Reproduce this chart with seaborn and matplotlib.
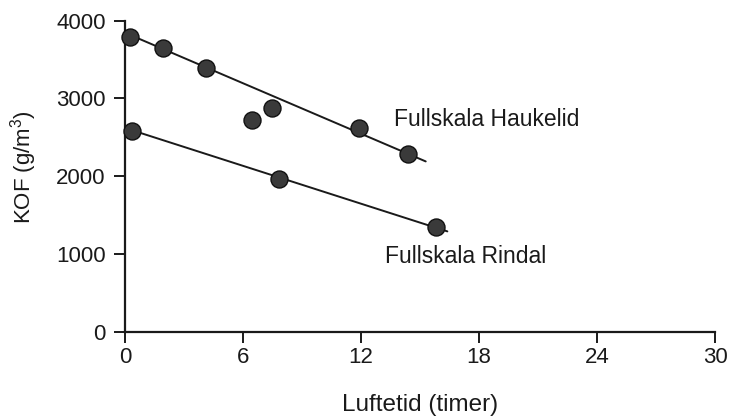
import matplotlib
matplotlib.use("Agg")
import matplotlib.pyplot as plt
import seaborn as sns
import pandas as pd

# Data
hauk_x = [0.25, 1.95, 4.12, 6.46, 7.49, 11.91, 14.37]
hauk_y = [3796, 3646, 3397, 2725, 2883, 2618, 2285]
rind_x = [0.37, 7.83, 15.81]
rind_y = [2587, 1966, 1341]

# fitted lines (endpoints)
hauk_line_x = [0.0, 15.29]
hauk_line_y = [3845, 2190]
rind_line_x = [0.37, 16.39]
rind_line_y = [2590, 1290]

x_ticks = [0, 6, 12, 18, 24, 30]
y_ticks = [0, 1000, 2000, 3000, 4000]

sns.set_theme(style="ticks")
plt.rcParams['font.family'] = ['Liberation Sans', 'DejaVu Sans']
plt.rcParams['mathtext.fontset'] = 'custom'
plt.rcParams['mathtext.rm'] = 'Liberation Sans'

fig = plt.figure(figsize=(7.33, 4.18), dpi=100)
ax = fig.add_axes([0.1705, 0.2065, 0.805, 0.744])

ink = "#1a1a1a"

df_hl = pd.DataFrame({"x": hauk_line_x, "y": hauk_line_y})
df_rl = pd.DataFrame({"x": rind_line_x, "y": rind_line_y})
sns.lineplot(data=df_hl, x="x", y="y", ax=ax, color=ink, linewidth=1.4, zorder=2)
sns.lineplot(data=df_rl, x="x", y="y", ax=ax, color=ink, linewidth=1.4, zorder=2)

df_h = pd.DataFrame({"x": hauk_x, "y": hauk_y})
df_r = pd.DataFrame({"x": rind_x, "y": rind_y})
for d in (df_h, df_r):
    sns.scatterplot(data=d, x="x", y="y", ax=ax, s=150, color="#3a3a3a",
                    edgecolor="#111111", linewidth=1.0, zorder=3, clip_on=False)

ax.set_xlim(0, 30)
ax.set_ylim(0, 4000)
ax.set_xticks(x_ticks)
ax.set_yticks(y_ticks)
ax.tick_params(axis="both", labelsize=16, colors=ink, length=8, width=1.4,
               direction="out")
ax.tick_params(axis="y", pad=6)
ax.tick_params(axis="x", pad=3)
for side in ("top", "right"):
    ax.spines[side].set_visible(False)
for side in ("left", "bottom"):
    ax.spines[side].set_color(ink)
    ax.spines[side].set_linewidth(1.6)

ax.set_xlabel("Luftetid (timer)", fontsize=17.5, color=ink, labelpad=19)
ax.set_ylabel("KOF (g/m$^3$)", fontsize=16, color=ink)
ax.yaxis.set_label_coords(-0.145, 0.53)

ax.text(13.68, 2641, "Fullskala Haukelid", fontsize=16.5, color=ink,
        va="baseline", ha="left")
ax.text(13.22, 884, "Fullskala Rindal", fontsize=16.5, color=ink,
        va="baseline", ha="left")

fig.savefig("out.png", dpi=100)
